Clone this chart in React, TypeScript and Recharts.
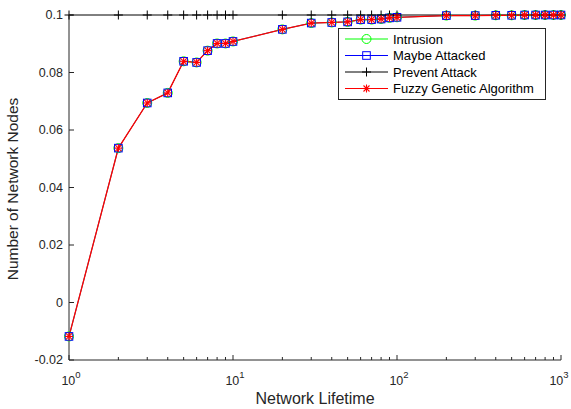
import { LineChart, Line, XAxis, YAxis, Legend } from 'recharts'

const lifetimes = [1, 2, 3, 4, 5, 6, 7, 8, 9, 10, 20, 30, 40, 50, 60, 70, 80, 90, 100, 200, 300, 400, 500, 600, 700, 800, 900, 1000]

const intrusion = [-0.0118, 0.0537, 0.0694, 0.0729, 0.0839, 0.0835, 0.0876, 0.0901, 0.0901, 0.0908, 0.095, 0.0972, 0.0974, 0.0976, 0.0984, 0.0984, 0.0986, 0.099, 0.0992, 0.0998, 0.0998, 0.0999, 0.0999, 0.1, 0.1, 0.1, 0.1, 0.1]
const maybeAttacked = [-0.0118, 0.0537, 0.0694, 0.0729, 0.0839, 0.0835, 0.0876, 0.0901, 0.0901, 0.0908, 0.095, 0.0972, 0.0974, 0.0976, 0.0984, 0.0984, 0.0986, 0.099, 0.0992, 0.0998, 0.0998, 0.0999, 0.0999, 0.1, 0.1, 0.1, 0.1, 0.1]
const preventAttack = [0.1, 0.1, 0.1, 0.1, 0.1, 0.1, 0.1, 0.1, 0.1, 0.1, 0.1, 0.1, 0.1, 0.1, 0.1, 0.1, 0.1, 0.1, 0.1, 0.1, 0.1, 0.1, 0.1, 0.1, 0.1, 0.1, 0.1, 0.1]
const fuzzyGenetic = [-0.0118, 0.0537, 0.0694, 0.0729, 0.0839, 0.0835, 0.0876, 0.0901, 0.0901, 0.0908, 0.095, 0.0972, 0.0974, 0.0976, 0.0984, 0.0984, 0.0986, 0.099, 0.0992, 0.0998, 0.0998, 0.0999, 0.0999, 0.1, 0.1, 0.1, 0.1, 0.1]

// major + minor ticks of the log axis
const xTicks = [1, 2, 3, 4, 5, 6, 7, 8, 9, 10, 20, 30, 40, 50, 60, 70, 80, 90, 100, 200, 300, 400, 500, 600, 700, 800, 900, 1000]
const yTicks = [-0.02, 0, 0.02, 0.04, 0.06, 0.08, 0.1]
const yTickLabels = ['-0.02', '0', '0.02', '0.04', '0.06', '0.08', '0.1']

const seriesNames = ['Intrusion', 'Maybe Attacked', 'Prevent Attack', 'Fuzzy Genetic Algorithm']

const data = lifetimes.map((x, i) => ({
  x,
  intrusion: intrusion[i],
  maybe: maybeAttacked[i],
  prevent: preventAttack[i],
  fuzzy: fuzzyGenetic[i],
}))

const AXIS = '#262626'
const FONT = '"Liberation Sans", Arial, sans-serif'

function isMajor(v: number) {
  const e = Math.round(Math.log10(v))
  return Math.abs(Math.pow(10, e) - v) < 1e-9
}

function Marker({ kind, cx, cy }: { kind: string; cx: number; cy: number }) {
  if (kind === 'circle') {
    return <circle cx={cx} cy={cy} r={4.5} fill="none" stroke="#00ff00" strokeWidth={1} />
  }
  if (kind === 'square') {
    return <rect x={cx - 3.8} y={cy - 3.8} width={7.6} height={7.6} fill="none" stroke="#0000ff" strokeWidth={1} />
  }
  if (kind === 'plus') {
    return (
      <g stroke="#000000" strokeWidth={1}>
        <line x1={cx - 4.5} x2={cx + 4.5} y1={cy} y2={cy} />
        <line x1={cx} x2={cx} y1={cy - 4.5} y2={cy + 4.5} />
      </g>
    )
  }
  return (
    <g stroke="#ff0000" strokeWidth={1.1}>
      <line x1={cx - 4} x2={cx + 4} y1={cy} y2={cy} />
      <line x1={cx} x2={cx} y1={cy - 4} y2={cy + 4} />
      <line x1={cx - 3} x2={cx + 3} y1={cy - 3} y2={cy + 3} />
      <line x1={cx - 3} x2={cx + 3} y1={cy + 3} y2={cy - 3} />
    </g>
  )
}

function dotOf(kind: string) {
  return (p: any) => <Marker key={`${kind}-${p.index}`} kind={kind} cx={p.cx} cy={p.cy} />
}

function BottomTick(props: any) {
  const { x, y, payload } = props
  const v = payload.value
  const major = isMajor(v)
  const e = Math.round(Math.log10(v))
  // last label sits against the right edge, nudge it in a bit
  const lx = v >= 1000 ? x - 2 : x + 2
  return (
    <g>
      <line x1={x} x2={x} y1={y} y2={y - (major ? 5 : 3)} stroke={AXIS} />
      {major && (
        <text x={lx} y={y + 25} textAnchor="middle" fill={AXIS} fontSize={12.5} fontFamily={FONT}>
          10<tspan dy={-7} fontSize={9.5}>{e}</tspan>
        </text>
      )}
    </g>
  )
}

function TopTick(props: any) {
  const { x, y, payload } = props
  const major = isMajor(payload.value)
  return <line x1={x} x2={x} y1={y} y2={y + (major ? 5 : 3)} stroke={AXIS} />
}

function LeftTick(props: any) {
  const { x, y, payload } = props
  const idx = yTicks.indexOf(payload.value)
  return (
    <g>
      <line x1={x} x2={x + 5} y1={y} y2={y} stroke={AXIS} />
      <text x={x - 6} y={y + 4} textAnchor="end" fill={AXIS} fontSize={12.5} fontFamily={FONT}>
        {yTickLabels[idx]}
      </text>
    </g>
  )
}

function RightTick(props: any) {
  const { x, y } = props
  return <line x1={x} x2={x - 5} y1={y} y2={y} stroke={AXIS} />
}

const legendKinds = ['circle', 'square', 'plus', 'star']
const legendColors = ['#00ff00', '#0000ff', '#000000', '#ff0000']

function LegendBox() {
  return (
    <div style={{ width: 208, height: 72, border: `1px solid ${AXIS}`, background: '#fff', boxSizing: 'border-box' }}>
      <svg width={206} height={70} style={{ display: 'block' }}>
        {seriesNames.map((name, i) => {
          const cy = 10 + i * 16.5
          return (
            <g key={name}>
              <line x1={6} x2={49} y1={cy} y2={cy} stroke={legendColors[i]} strokeWidth={1} />
              <Marker kind={legendKinds[i]} cx={27.5} cy={cy} />
              <text x={54} y={cy + 4.5} fontSize={13} fill="#000" fontFamily={FONT}>
                {name}
              </text>
            </g>
          )
        })}
      </svg>
    </div>
  )
}

export default function App() {
  return (
    <div style={{ position: 'absolute', left: 0, top: 0, width: 571, height: 409, background: '#fff' }}>
      <LineChart width={571} height={409} data={data} margin={{ top: 15, right: 10, bottom: 0, left: 0 }}>
        <XAxis
          dataKey="x"
          type="number"
          scale="log"
          domain={[1, 1000]}
          ticks={xTicks}
          interval={0}
          height={49}
          tickSize={0}
          tickMargin={0}
          tick={BottomTick}
          axisLine={{ stroke: AXIS }}
          tickLine={false}
          label={{ value: 'Network Lifetime', position: 'insideBottom', offset: 5, fill: AXIS, fontSize: 16, fontFamily: FONT }}
        />
        <XAxis
          xAxisId="top"
          orientation="top"
          dataKey="x"
          type="number"
          scale="log"
          domain={[1, 1000]}
          ticks={xTicks}
          interval={0}
          height={0}
          tickSize={0}
          tickMargin={0}
          tick={TopTick}
          axisLine={{ stroke: AXIS }}
          tickLine={false}
        />
        <YAxis
          type="number"
          domain={[-0.02, 0.1]}
          ticks={yTicks}
          interval={0}
          width={69}
          tickSize={0}
          tickMargin={0}
          tick={LeftTick}
          axisLine={{ stroke: AXIS }}
          tickLine={false}
          label={{
            content: () => (
              <text
                x={18}
                y={189}
                transform="rotate(-90 18 189)"
                textAnchor="middle"
                fill={AXIS}
                fontSize={15.5}
                fontFamily={FONT}
              >
                Number of Network Nodes
              </text>
            ),
          }}
        />
        <YAxis
          yAxisId="right"
          orientation="right"
          type="number"
          domain={[-0.02, 0.1]}
          ticks={yTicks}
          interval={0}
          width={0}
          tickSize={0}
          tickMargin={0}
          tick={RightTick}
          axisLine={{ stroke: AXIS }}
          tickLine={false}
        />
        <Line dataKey="intrusion" stroke="#00ff00" strokeWidth={0.6} dot={dotOf('circle')} activeDot={false} isAnimationActive={false} />
        <Line dataKey="maybe" stroke="#0000ff" strokeWidth={0.6} dot={dotOf('square')} activeDot={false} isAnimationActive={false} />
        <Line dataKey="prevent" stroke="#000000" strokeWidth={1} dot={dotOf('plus')} activeDot={false} isAnimationActive={false} />
        <Line dataKey="fuzzy" stroke="#ff0000" strokeWidth={1.3} dot={dotOf('star')} activeDot={false} isAnimationActive={false} />
        <Legend
          layout="horizontal"
          verticalAlign="middle"
          align="center"
          content={() => <LegendBox />}
          wrapperStyle={{ position: 'absolute', left: 338, top: 28, width: 208, height: 72 }}
        />
      </LineChart>
    </div>
  )
}
